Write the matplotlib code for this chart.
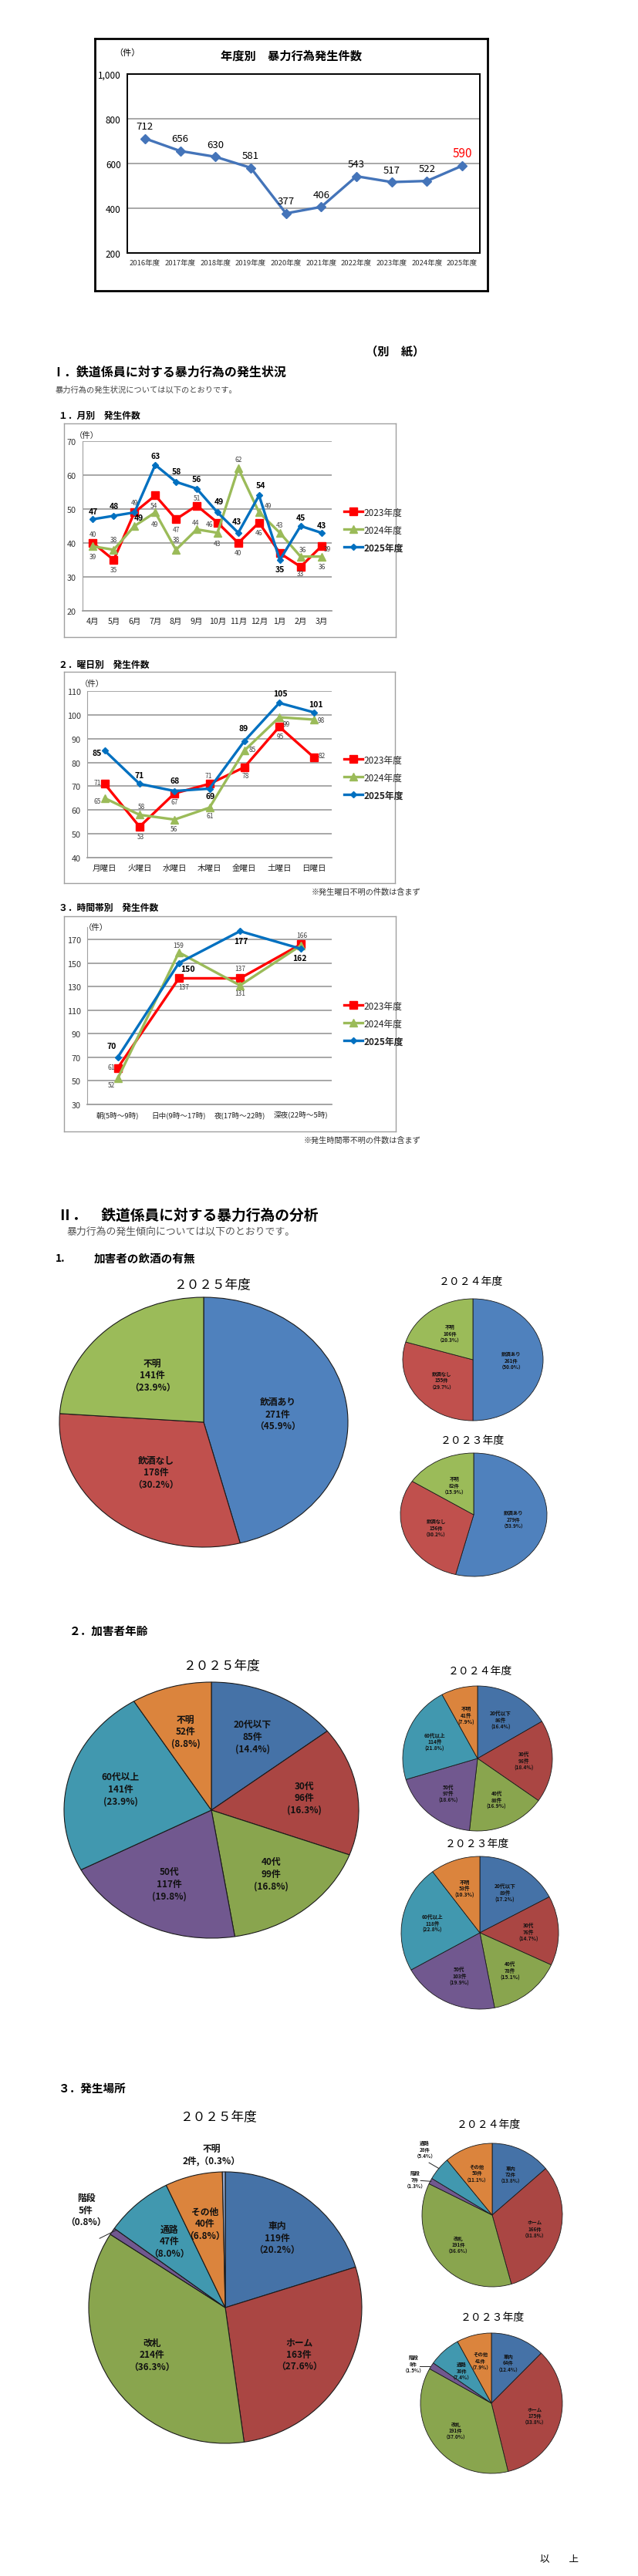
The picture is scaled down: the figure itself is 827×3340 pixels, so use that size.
import matplotlib
matplotlib.use('Agg')
import matplotlib.pyplot as plt
import numpy as np

plt.rcParams['font.family'] = ['Noto Sans CJK JP', 'DejaVu Sans']

# ---------------- data ----------------
fy_labels = ['2016年度', '2017年度', '2018年度', '2019年度', '2020年度',
             '2021年度', '2022年度', '2023年度', '2024年度', '2025年度']
fy_counts = [712, 656, 630, 581, 377, 406, 543, 517, 522, 590]

series_names = ['2023年度', '2024年度', '2025年度']

months = ['4月', '5月', '6月', '7月', '8月', '9月', '10月', '11月', '12月', '1月', '2月', '3月']
month_2023 = [40, 35, 49, 54, 47, 51, 46, 40, 46, 37, 33, 39]
month_2024 = [39, 38, 45, 49, 38, 44, 43, 62, 49, 43, 36, 36]
month_2025 = [47, 48, 49, 63, 58, 56, 49, 43, 54, 35, 45, 43]

weekdays = ['月曜日', '火曜日', '水曜日', '木曜日', '金曜日', '土曜日', '日曜日']
wd_2023 = [71, 53, 67, 71, 78, 95, 82]
wd_2024 = [65, 58, 56, 61, 85, 99, 98]
wd_2025 = [85, 71, 68, 69, 89, 105, 101]

timebands = ['朝(5時～9時)', '日中(9時～17時)', '夜(17時～22時)', '深夜(22時～5時)']
tb_2023 = [61, 137, 137, 166]
tb_2024 = [52, 159, 131, 165]
tb_2025 = [70, 150, 177, 162]

drink_cats = ['飲酒あり', '飲酒なし', '不明']
drink_2025 = [271, 178, 141]
drink_2025_pct = [45.9, 30.2, 23.9]
drink_2024 = [261, 155, 106]
drink_2024_pct = [50.0, 29.7, 20.3]
drink_2023 = [279, 156, 82]
drink_2023_pct = [53.9, 30.2, 15.9]

age_cats = ['20代以下', '30代', '40代', '50代', '60代以上', '不明']
age_2025 = [85, 96, 99, 117, 141, 52]
age_2025_pct = [14.4, 16.3, 16.8, 19.8, 23.9, 8.8]
age_2024 = [86, 96, 88, 97, 114, 41]
age_2024_pct = [16.4, 18.4, 16.9, 18.6, 21.8, 7.9]
age_2023 = [89, 76, 78, 103, 118, 53]
age_2023_pct = [17.2, 14.7, 15.1, 19.9, 22.8, 10.3]

place_cats = ['車内', 'ホーム', '改札', '階段', '通路', 'その他', '不明']
place_2025 = [119, 163, 214, 5, 47, 40, 2]
place_2025_pct = [20.2, 27.6, 36.3, 0.8, 8.0, 6.8, 0.3]
place_2024 = [72, 166, 191, 7, 28, 58, 0]
place_2024_pct = [13.8, 31.8, 36.6, 1.3, 5.4, 11.1, 0.0]
place_2023 = [64, 175, 191, 8, 38, 41, 0]
place_2023_pct = [12.4, 33.8, 37.0, 1.5, 7.4, 7.9, 0.0]

# ---------------- layout helpers ----------------
W, H = 827, 3341
fig = plt.figure(figsize=(W / 100, H / 100), dpi=100)
fig.patch.set_facecolor('white')


def add_ax(x0, y0, x1, y1):
    return fig.add_axes([x0 / W, 1 - y1 / H, (x1 - x0) / W, (y1 - y0) / H])


def ftext(x, y, s, **kw):
    kw.setdefault('va', 'center')
    return fig.text(x / W, 1 - y / H, s, **kw)


def box(x0, y0, x1, y1, color, lw):
    b = add_ax(x0, y0, x1, y1)
    b.set_xticks([])
    b.set_yticks([])
    for s in b.spines.values():
        s.set_color(color)
        s.set_linewidth(lw)
    b.patch.set_alpha(0)
    b.set_zorder(0)
    return b


PX = 0.72  # px -> points

# ---------------- top chart ----------------
box(123, 51, 632, 378, 'black', 2.0)
ftext(377, 73, '年度別　暴力行為発生件数', ha='center', fontsize=11, fontweight='bold')
ftext(165, 69, '（件）', ha='center', fontsize=8)
ax = add_ax(165, 97, 622, 329)
ax.set_zorder(1)
xs = np.arange(len(fy_labels))
ax.plot(xs, fy_counts, color='#4474B9', lw=2.4, marker='D', ms=6, zorder=3)
ax.set_xlim(-0.5, len(fy_labels) - 0.5)
ax.set_ylim(200, 1000)
ax.set_yticks([200, 400, 600, 800, 1000])
ax.set_yticklabels(['200', '400', '600', '800', '1,000'], fontsize=8.5)
ax.set_xticks(xs)
ax.set_xticklabels(fy_labels, fontsize=6.8, color='#333333')
ax.tick_params(length=0, pad=6)
ax.yaxis.grid(True, color='#9a9a9a', lw=1.2)
ax.set_axisbelow(True)
for s in ax.spines.values():
    s.set_color('black')
    s.set_linewidth(1.4)
for i, v in enumerate(fy_counts):
    last = i == len(fy_counts) - 1
    ax.annotate(str(v), (i, v), xytext=(0, 16 * PX), textcoords='offset points',
                ha='center', va='center', fontsize=11 if last else 9.5,
                color='red' if last else 'black')

# ---------------- section I ----------------
ftext(512, 455, '（別　紙）', ha='center', fontsize=11, fontweight='bold')
ftext(67, 483, 'Ⅰ．鉄道係員に対する暴力行為の発生状況', ha='left', fontsize=11.5, fontweight='bold')
ftext(72, 506, '暴力行為の発生状況については以下のとおりです。', ha='left', fontsize=7.4, color='#444444')

STYLES = [dict(color='#FF0000', marker='s', ms=6.5),
          dict(color='#9BBB59', marker='^', ms=7),
          dict(color='#0070C0', marker='D', ms=4.5)]
GRID = '#A0A0A0'


def line_chart(rect, cats, series, ylim, yticks, offsets, legend_y, unit_xy, xfs=7.6):
    x0, y0, x1, y1 = rect
    ax = add_ax(x0, y0, x1, y1)
    ax.set_zorder(1)
    ax.patch.set_alpha(0)
    xs = np.arange(len(cats))
    handles = []
    for k, (vals, st) in enumerate(zip(series, STYLES)):
        h, = ax.plot(xs, vals, color=st['color'], lw=2.4, marker=st['marker'],
                     ms=st['ms'], zorder=3 + k, label=series_names[k])
        handles.append(h)
        for i, v in enumerate(vals):
            off = offsets[k][i]
            if off is None:
                continue
            bold = k == 2
            ax.annotate(str(v), (i, v), xytext=(off[0] * PX, off[1] * PX),
                        textcoords='offset points', ha='center', va='center',
                        fontsize=7.5 if bold else 6.0,
                        fontweight='bold' if bold else 'normal',
                        color='black' if bold else '#404040', zorder=10)
    ax.set_xlim(-0.5, len(cats) - 0.5)
    ax.set_ylim(*ylim)
    ax.set_yticks(yticks)
    ax.set_yticklabels([str(t) for t in yticks], fontsize=7.8, color='#333333')
    ax.set_xticks(xs)
    ax.set_xticklabels(cats, fontsize=xfs, color='#222222')
    ax.tick_params(length=0, pad=6)
    ax.yaxis.grid(True, color=GRID, lw=1.3)
    ax.set_axisbelow(True)
    ax.spines['top'].set_visible(False)
    ax.spines['right'].set_visible(False)
    ax.spines['left'].set_color(GRID)
    ax.spines['bottom'].set_color(GRID)
    ax.spines['bottom'].set_linewidth(1.3)
    leg = ax.legend(handles=handles, loc='center left',
                    bbox_to_anchor=(440 / W, 1 - legend_y / H),
                    bbox_transform=fig.transFigure, frameon=False,
                    fontsize=8.5, handlelength=2.0, handletextpad=0.2,
                    labelspacing=0.85, borderpad=0)
    for t in leg.get_texts():
        t.set_color('#222222')
    leg.get_texts()[2].set_fontweight('bold')
    ftext(unit_xy[0], unit_xy[1], '（件）', ha='center', fontsize=7.5, color='#222222')
    return ax


# 1. monthly
ftext(76, 539, '１．月別　発生件数', ha='left', fontsize=8.5, fontweight='bold')
box(83, 550, 513, 827, '#A0A0A0', 1.0)
month_offsets = [
    [(0, 12), (0, -12), (0, 13), (-2, -13), (0, -13), (0, 10), (-10, -2), (0, -13), (0, -13), None, (0, -9), (8, -3)],
    [(0, -13), (0, 13), None, (-1, -15), (0, 13), (-1, 9), (0, -14), (0, 12), (12, 9), (0, 10), (3, 9), (1, -13)],
    [(0, 10), (0, 13), (6, -7), (0, 12), (1, 14), (0, 13), (2, 14), (-2, 15), (2, 13), (0, -12), (0, 11), (0, 10)],
]
line_chart((107, 573, 430, 793), months, [month_2023, month_2024, month_2025],
           (20, 70), [20, 30, 40, 50, 60, 70], month_offsets, 688, (112, 565))

# 2. weekday
ftext(76, 862, '２．曜日別　発生件数', ha='left', fontsize=8.5, fontweight='bold')
box(83, 872, 512, 1146, '#A0A0A0', 1.0)
wd_offsets = [
    [(-9, 2), (1, -13), (0, -11), (-1, 11), (1, -11), (1, -12), (10, 3)],
    [(-9, -4), (2, 11), (-1, -12), (1, -10), (10, 2), (9, -9), (9, 0)],
    [(-10, -3), (0, 11), (0, 14), (1, -9), (-1, 17), (1, 12), (2, 11)],
]
line_chart((113, 897, 430, 1113), weekdays, [wd_2023, wd_2024, wd_2025],
           (40, 110), [40, 50, 60, 70, 80, 90, 100, 110], wd_offsets, 1009, (119, 887))
ftext(545, 1157, '※発生曜日不明の件数は含まず', ha='right', fontsize=7.3, color='#333333')

# 3. time band
ftext(76, 1177, '３．時間帯別　発生件数', ha='left', fontsize=8.5, fontweight='bold')
box(83, 1189, 513, 1468, '#A0A0A0', 1.0)
tb_offsets = [
    [(-8, 1), (6, -11), (0, 13), (1, 12)],
    [(-8, -8), (-1, 9), (0, -10), None],
    [(-8, 15), (12, -7), (1, -13), (-2, -12)],
]
line_chart((113, 1203, 430, 1433), timebands, [tb_2023, tb_2024, tb_2025],
           (30, 180.5), [30, 50, 70, 90, 110, 130, 150, 170], tb_offsets, 1328, (124, 1203),
           xfs=6.9)
ftext(545, 1479, '※発生時間帯不明の件数は含まず', ha='right', fontsize=7.3, color='#333333')

# ---------------- section II ----------------
ftext(75, 1576, 'Ⅱ．　鉄道係員に対する暴力行為の分析', ha='left', fontsize=13.5, fontweight='bold')
ftext(87, 1597, '暴力行為の発生傾向については以下のとおりです。', ha='left', fontsize=9.3, color='#555555')

DRINK_COLORS = ['#4F81BD', '#C0504D', '#9BBB59']
AGE_COLORS = ['#4572A7', '#AA4643', '#89A54E', '#71588F', '#4198AF', '#DB843D']
PLACE_COLORS = ['#4572A7', '#AA4643', '#89A54E', '#71588F', '#4198AF', '#DB843D', '#93A9CF']


def draw_pie(cx, cy, rx, ry, values, cats, pcts, colors, fs, r_lab=0.6,
             paren=('（', '）'), outside=None, lw=0.8):
    ax = add_ax(cx - rx, cy - ry, cx + rx, cy + ry)
    keep = [i for i, v in enumerate(values) if v > 0]
    vals = [values[i] for i in keep]
    cols = [colors[i] for i in keep]
    wedges, _ = ax.pie(vals, colors=cols, startangle=90, counterclock=False, radius=1,
                       wedgeprops=dict(edgecolor='#1a1a1a', linewidth=lw))
    ax.set_aspect('auto')
    ax.set_xlim(-1, 1)
    ax.set_ylim(-1, 1)
    for w, i in zip(wedges, keep):
        txt = f'{cats[i]}\n{values[i]}件\n{paren[0]}{pcts[i]:.1f}%{paren[1]}'
        if outside and cats[i] in outside:
            spec = outside[cats[i]]
            if spec.get('inline'):
                txt = f'{cats[i]}\n{values[i]}件,{paren[0]}{pcts[i]:.1f}%{paren[1]}'
            tx, ty = spec['pos']
            ax.text(tx, ty, txt, ha='center', va='center', fontsize=fs,
                    fontweight='bold', linespacing=1.25, color='#111111')
            if 'line' in spec:
                (lx0, ly0), (lx1, ly1) = spec['line']
                ax.plot([lx0, lx1], [ly0, ly1], color='#222222', lw=0.7, clip_on=False)
        else:
            ang = np.deg2rad((w.theta1 + w.theta2) / 2)
            ax.text(r_lab * np.cos(ang), r_lab * np.sin(ang), txt, ha='center', va='center',
                    fontsize=fs, fontweight='bold', linespacing=1.25, color='#111111')
    return ax


# 1. drinking
ftext(72, 1632, '1.', ha='left', fontsize=10, fontweight='bold')
ftext(122, 1632, '加害者の飲酒の有無', ha='left', fontsize=10.5, fontweight='bold')
ftext(275, 1666, '２０２５年度', ha='center', fontsize=12)
draw_pie(264, 1845, 187, 162, drink_2025, drink_cats, drink_2025_pct, DRINK_COLORS, 8.5, r_lab=0.52)
ftext(610, 1662, '２０２４年度', ha='center', fontsize=10)
draw_pie(613, 1764, 91, 79, drink_2024, drink_cats, drink_2024_pct, DRINK_COLORS, 4.6, r_lab=0.55, lw=0.6)
ftext(612, 1868, '２０２３年度', ha='center', fontsize=10)
draw_pie(614, 1965, 95, 80, drink_2023, drink_cats, drink_2023_pct, DRINK_COLORS, 4.6, r_lab=0.55, lw=0.6)

# 2. age
ftext(90, 2115, '２．加害者年齢', ha='left', fontsize=10.5, fontweight='bold')
ftext(287, 2160, '２０２５年度', ha='center', fontsize=12)
draw_pie(274, 2348, 191, 166, age_2025, age_cats, age_2025_pct, AGE_COLORS, 8.5, r_lab=0.64,
         paren=('(', ')'))
ftext(622, 2167, '２０２４年度', ha='center', fontsize=10)
draw_pie(619, 2281, 97, 94, age_2024, age_cats, age_2024_pct, AGE_COLORS, 4.8, r_lab=0.62,
         paren=('(', ')'), lw=0.6)
ftext(618, 2391, '２０２３年度', ha='center', fontsize=10)
draw_pie(622, 2507, 102, 99, age_2023, age_cats, age_2023_pct, AGE_COLORS, 4.8, r_lab=0.62,
         paren=('(', ')'), lw=0.6)

# 3. place
ftext(75, 2708, '３．発生場所', ha='left', fontsize=10.5, fontweight='bold')
ftext(283, 2745, '２０２５年度', ha='center', fontsize=12)
draw_pie(292, 2993, 177, 176, place_2025, place_cats, place_2025_pct, PLACE_COLORS, 8.5, r_lab=0.64,
         outside={'不明': dict(pos=(-0.10, 1.13), inline=True),
                  '階段': dict(pos=(-1.02, 0.72), line=((-0.92, 0.51), (-0.80, 0.57)))})
ftext(633, 2755, '２０２４年度', ha='center', fontsize=10)
draw_pie(638, 2873, 91, 93, place_2024, place_cats, place_2024_pct, PLACE_COLORS, 4.6, r_lab=0.63,
         outside={'通路': dict(pos=(-0.96, 0.92), line=((-0.90, 0.73), (-0.76, 0.65))),
                  '階段': dict(pos=(-1.10, 0.50), line=((-1.02, 0.48), (-0.87, 0.47)))}, lw=0.6)
ftext(638, 3005, '２０２３年度', ha='center', fontsize=10)
draw_pie(637, 3117, 92, 91, place_2023, place_cats, place_2023_pct, PLACE_COLORS, 4.6, r_lab=0.63,
         outside={'階段': dict(pos=(-1.10, 0.57), line=((-1.01, 0.53), (-0.86, 0.53)))}, lw=0.6)

ftext(725, 3318, '以　　上', ha='center', fontsize=9)

fig.savefig('out.png', dpi=100, facecolor='white')
